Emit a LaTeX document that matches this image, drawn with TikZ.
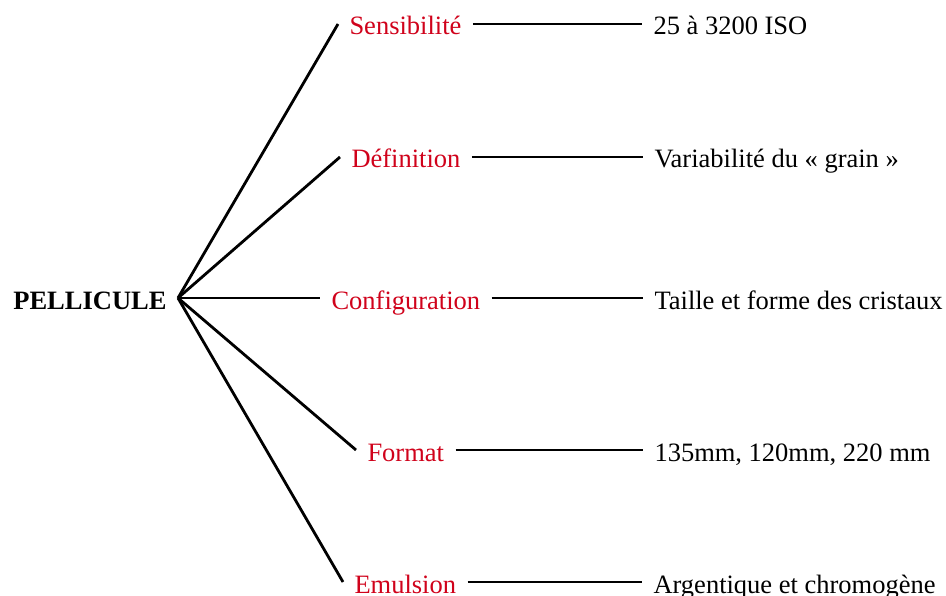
\documentclass[tikz,border=0pt]{standalone}
\usepackage{fontspec}
\setmainfont{Liberation Serif}
\definecolor{lblred}{RGB}{208,2,27}
\tikzset{
  lbl/.style={inner sep=0pt, outer xsep=11.5pt, outer ysep=0pt, text height=22pt, text depth=0pt,
    font=\fontsize{26.5}{30}\selectfont, anchor=west},
  cat/.style={lbl, text=lblred},
  val/.style={lbl, text=black},
  conn/.style={line width=2.8pt, black}
}
\begin{document}
\begin{tikzpicture}[x=1pt,y=-1pt]
\useasboundingbox (0,0) rectangle (946,596);
\node[lbl, anchor=east, font=\fontsize{26.5}{30}\selectfont\bfseries] (pel) at (178,298) {PELLICULE};

\node[cat] (sens) at (338,24) {Sensibilité};
\node[cat] (def)  at (340,157) {Définition};
\node[cat] (conf) at (320,298) {Configuration};
\node[cat] (form) at (356,450) {Format};
\node[cat] (emul) at (343,582) {Emulsion};

\node[val] (v1) at (642,24)  {25 à 3200 ISO};
\node[val] (v2) at (643,157) {Variabilité du « grain »};
\node[val] (v3) at (643,298) {Taille et forme des cristaux};
\node[val] (v4) at (643,450) {135mm, 120mm, 220 mm};
\node[val] (v5) at (642,582) {Argentique et chromogène};

\foreach \c in {sens,def,conf,form,emul}
  \draw[conn] (pel.east) -- (\c.west);
\draw[conn] (sens.east) -- (v1.west);
\draw[conn] (def.east)  -- (v2.west);
\draw[conn] (conf.east) -- (v3.west);
\draw[conn] (form.east) -- (v4.west);
\draw[conn] (emul.east) -- (v5.west);
\end{tikzpicture}
\end{document}
